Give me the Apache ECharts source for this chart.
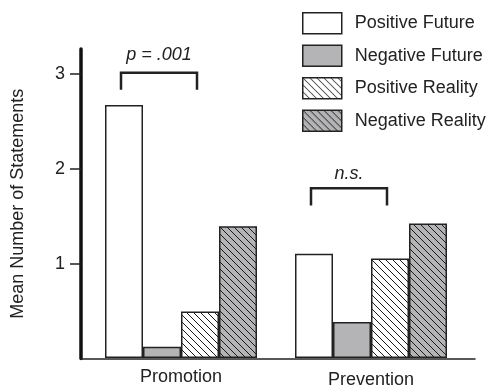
<!DOCTYPE html>
<html><head><meta charset="utf-8">
<script src="https://cdn.jsdelivr.net/npm/echarts@6/dist/echarts.min.js"></script>
<style>html,body{margin:0;padding:0;background:#fff}#c{width:490px;height:389px}</style>
</head><body><div id="c"></div>
<script>
// ---- data ----
const categories = ['Promotion', 'Prevention'];
const seriesNames = ['Positive Future', 'Negative Future', 'Positive Reality', 'Negative Reality'];
const positiveFuture = [2.67, 1.10];
const negativeFuture = [0.12, 0.38];
const positiveReality = [0.49, 1.05];
const negativeReality = [1.39, 1.42];
const yTicks = [1, 2, 3];
const annotationTexts = ['p = .001', 'n.s.'];
const bracketTop = [3.01, 1.79];
const bracketLeg = [2.83, 1.61];
const annotationTextY = [3.20, 1.945];

// ---- styling ----
const FONT = '"Liberation Sans", Arial, sans-serif';
const GRAY = '#b4b4b7';
const INK = '#222';
const BAR_W = 38;
const Y_MAX = 3.26;

function hatch(bg) {
  const c = document.createElement('canvas');
  c.width = 7; c.height = 7;
  const g = c.getContext('2d');
  g.fillStyle = bg; g.fillRect(0, 0, 7, 7);
  g.strokeStyle = '#1a1a1a'; g.lineWidth = 1;
  g.beginPath();
  g.moveTo(-1, -1); g.lineTo(8, 8);
  g.moveTo(-1, 6); g.lineTo(1, 8);
  g.moveTo(6, -1); g.lineTo(8, 1);
  g.stroke();
  return { image: c, repeat: 'repeat' };
}
const fills = ['#ffffff', GRAY, hatch('#ffffff'), hatch(GRAY)];
const values = [positiveFuture, negativeFuture, positiveReality, negativeReality];

const chart = echarts.init(document.getElementById('c'), null, { renderer: 'canvas' });
chart.setOption({
  animation: false,
  backgroundColor: '#fff',
  textStyle: { fontFamily: FONT },
  grid: [
    { left: 81, right: 15, top: 49, bottom: 30.5 },
    { left: 86, right: 24, top: 49, bottom: 30.5 }
  ],
  legend: {
    data: seriesNames,
    orient: 'vertical',
    left: 302, top: 12,
    padding: 0,
    icon: 'rect',
    itemWidth: 39, itemHeight: 21, itemGap: 10,
    itemStyle: { borderColor: INK, borderWidth: 1.5 },
    textStyle: { fontFamily: FONT, fontSize: 18, color: INK, lineHeight: 21, padding: [0, 0, 0, 8] }
  },
  xAxis: [
    {
      gridIndex: 0, type: 'category', data: categories,
      axisLine: { lineStyle: { color: INK, width: 1.5 } },
      axisTick: { show: false }, axisLabel: { show: false }, splitLine: { show: false }
    },
    {
      gridIndex: 1, type: 'category', data: [categories[0], { value: categories[1], textStyle: { padding: [3, 0, 0, 0] } }],
      axisLine: { show: false }, axisTick: { show: false },
      axisLabel: { fontFamily: FONT, fontSize: 18, color: INK, margin: 10 },
      splitLine: { show: false }
    }
  ],
  yAxis: [
    {
      gridIndex: 0, type: 'value', min: 0, max: Y_MAX,
      axisLine: { show: true, lineStyle: { color: '#111', width: 3.5 } },
      axisTick: { show: true, customValues: yTicks, length: 11, lineStyle: { color: INK, width: 1.5 } },
      axisLabel: { customValues: yTicks, fontFamily: FONT, fontSize: 18, color: INK, margin: 16 },
      splitLine: { show: false },
      name: 'Mean Number of Statements', nameLocation: 'middle', nameGap: 54,
      nameTextStyle: { fontFamily: FONT, fontSize: 18, color: INK }
    },
    { gridIndex: 1, type: 'value', min: 0, max: Y_MAX, show: false, splitLine: { show: false } }
  ],
  series: values.map((v, i) => ({
    name: seriesNames[i], type: 'bar', xAxisIndex: 1, yAxisIndex: 1,
    data: v, barWidth: BAR_W, barGap: '0%',
    itemStyle: { color: fills[i], borderColor: INK, borderWidth: 1.5 }
  }))
});

// brackets & significance labels positioned through the axes
const graphics = [];
categories.forEach((c, i) => {
  const cx = chart.convertToPixel({ xAxisIndex: 1 }, c);
  const x1 = cx - 1.5 * BAR_W - 3;
  const x2 = cx + 0.5 * BAR_W - 3;
  const yt = chart.convertToPixel({ yAxisIndex: 1 }, bracketTop[i]);
  const yb = chart.convertToPixel({ yAxisIndex: 1 }, bracketLeg[i]);
  const ty = chart.convertToPixel({ yAxisIndex: 1 }, annotationTextY[i]);
  graphics.push({
    type: 'polyline',
    shape: { points: [[x1, yb], [x1, yt], [x2, yt], [x2, yb]] },
    style: { stroke: INK, lineWidth: 2.5, fill: null }
  });
  graphics.push({
    type: 'text',
    x: (x1 + x2) / 2, y: ty,
    style: { text: annotationTexts[i], fill: INK, font: 'italic 18px ' + FONT, align: 'center', verticalAlign: 'middle' }
  });
});
chart.setOption({ graphic: graphics });
</script>
</body></html>
